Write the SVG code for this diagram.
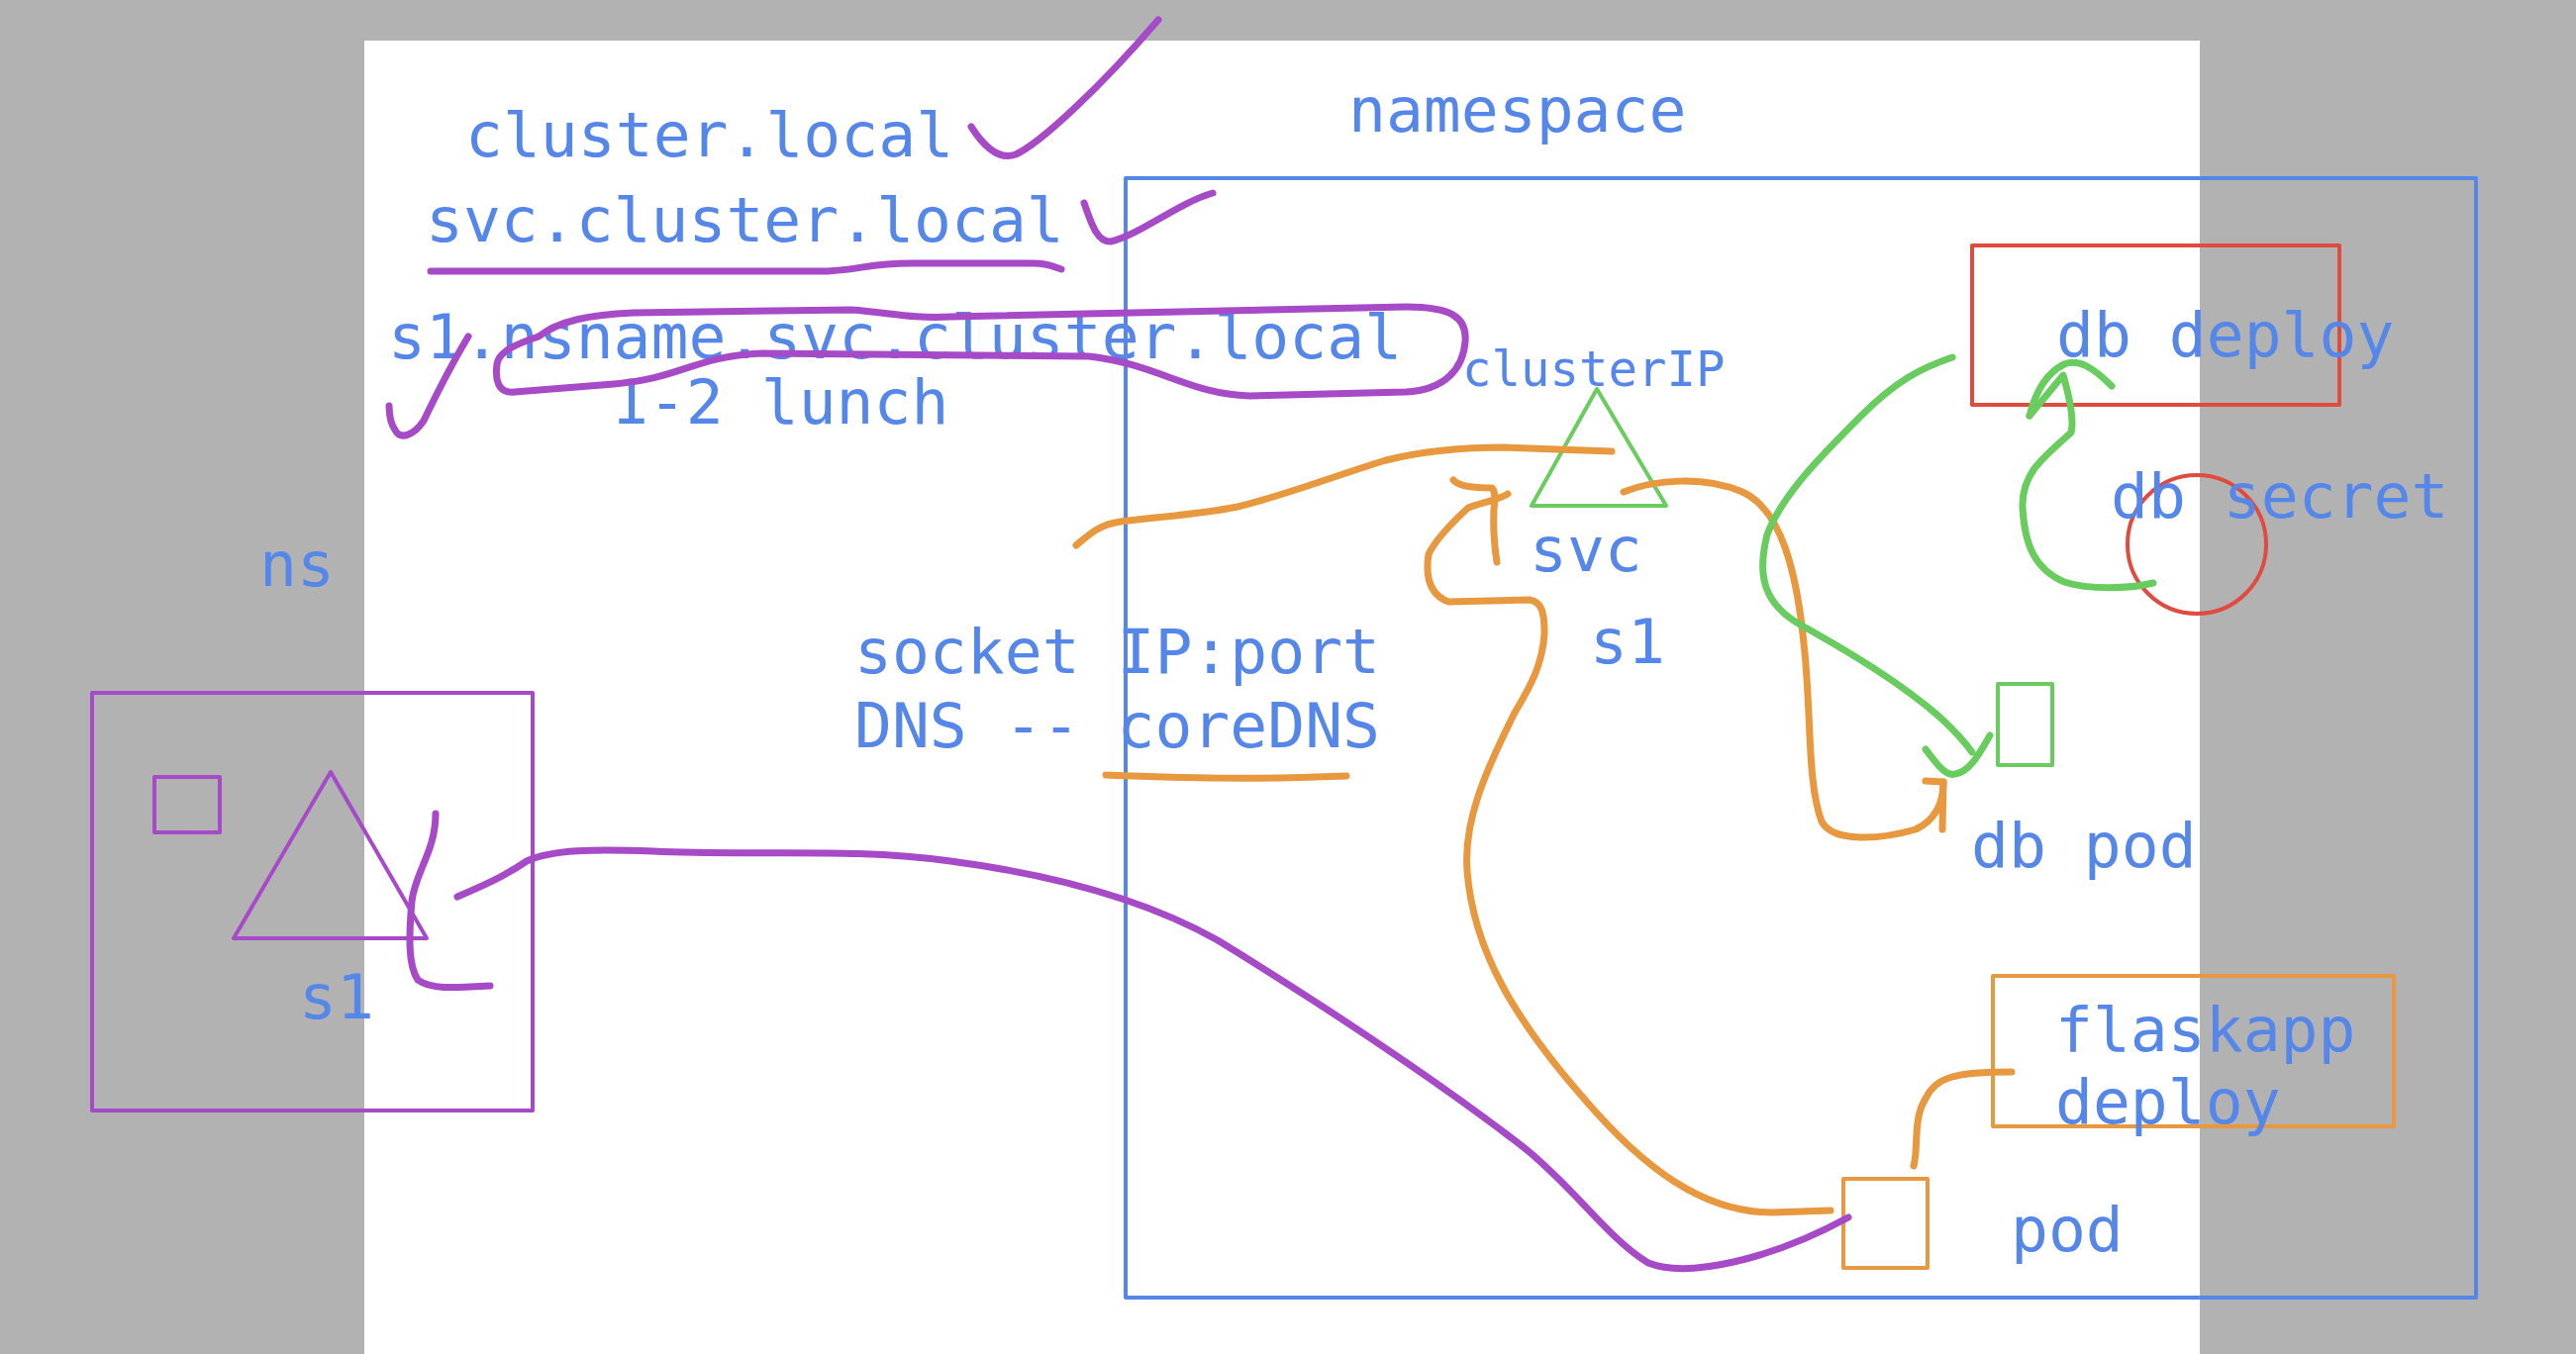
<svg xmlns="http://www.w3.org/2000/svg" width="2602" height="1368" viewBox="0 0 2602 1368">
<style>
text{font-family:"DejaVu Sans Mono","Liberation Mono",monospace;fill:#5586e9;font-size:63px}
.sm{font-size:49px}
.box{fill:none;stroke-width:4;stroke-linejoin:round}
.ink{fill:none;stroke-width:7;stroke-linecap:round;stroke-linejoin:round}
.p{stroke:#a64ac7}.o{stroke:#e8983e}.g{stroke:#68cd5e}.r{stroke:#e04b3f}.b{stroke:#5586e9}
</style>
<rect x="0" y="0" width="2602" height="1368" fill="#b2b2b2"/>
<rect x="368" y="41" width="1854" height="1327" fill="#ffffff"/>

<g id="notes">
<text x="470" y="158">cluster.local</text>
<text x="430" y="244">svc.cluster.local</text>
<text x="392" y="362">s1.nsname.svc.cluster.local</text>
<text x="617" y="428">1-2 lunch</text>
<text x="863" y="680">socket IP:port</text>
<text x="863" y="755">DNS -- coreDNS</text>
<text x="262" y="592">ns</text>
</g>

<g id="namespace">
<rect class="box b" x="1137" y="180" width="1364" height="1131"/>
<text x="1362" y="133">namespace</text>
</g>

<g id="ns-box">
<rect class="box p" x="93" y="700" width="445" height="422"/>
<rect class="box p" x="156" y="785" width="66" height="56"/>
<polygon class="box p" points="334,780 236,948 431,948"/>
<text x="302" y="1029">s1</text>
</g>

<g id="svc">
<polygon class="box g" points="1613,393 1547,511 1683,511"/>
<text class="sm" x="1477" y="390">clusterIP</text>
<text x="1545" y="577">svc</text>
<text x="1606" y="670">s1</text>
</g>

<g id="db-deploy">
<rect class="box r" x="1992" y="248" width="371" height="161"/>
<text x="2077" y="360">db deploy</text>
</g>

<g id="db-secret">
<circle class="box r" cx="2219" cy="550" r="70"/>
<text x="2132" y="523">db secret</text>
</g>

<g id="db-pod">
<rect class="box g" x="2018" y="691" width="55" height="82"/>
<text x="1991" y="876">db pod</text>
</g>

<g id="flaskapp-deploy">
<rect class="box o" x="2013" y="986" width="405" height="152"/>
<text x="2076" y="1062">flaskapp</text>
<text x="2076" y="1135">deploy</text>
</g>

<g id="pod">
<rect class="box o" x="1862" y="1191" width="85" height="90"/>
<text x="2031" y="1264">pod</text>
</g>

<g id="connectors">
<path class="ink p" d="M981,128 C995,150 1010,162 1026,156 C1050,145 1110,90 1170,20"/>
<path class="ink p" d="M1095,205 C1102,225 1108,245 1122,244 C1150,238 1190,205 1225,195"/>
<path class="ink p" d="M435,274 L836,274 C870,272 880,266 920,266 L1043,266 C1060,266 1065,270 1072,272"/>
<path class="ink p" d="M544,340 C565,324 595,318 640,316 L860,313 C900,316 920,322 960,320 L1420,310 C1465,310 1482,320 1480,345 C1478,372 1460,394 1420,396 L1262,400 C1200,398 1170,368 1100,360 L770,357 C700,360 690,382 620,388 L520,396 C502,398 500,382 502,368 C503,356 520,348 544,340"/>
<path class="ink p" d="M473,340 C455,370 440,400 428,425 C418,440 405,444 400,436 C394,428 393,420 393,410"/>
<path class="ink p" d="M440,822 C440,860 420,880 416,910 C413,945 412,975 422,990 C435,1000 460,998 495,996"/>
<path class="ink p" d="M462,906 C490,894 510,885 532,870 C558,858 600,858 660,860 C760,865 860,856 960,870 C1050,882 1150,905 1230,950 C1320,1005 1450,1090 1540,1160 C1590,1200 1625,1252 1665,1276 C1705,1292 1790,1272 1867,1230"/>

<path class="ink o" d="M1087,551 C1100,540 1110,530 1132,527 C1170,522 1210,520 1250,512 C1300,500 1350,480 1400,465 C1440,455 1480,452 1520,452 L1628,456"/>
<path class="ink o" d="M1468,485 C1474,492 1490,493 1507,493 C1511,497 1510,505 1509,515 C1508,535 1510,555 1512,568"/>
<path class="ink o" d="M1523,499 C1515,505 1495,508 1483,513 C1470,525 1450,545 1443,560 C1440,580 1442,600 1463,608 L1545,606 C1558,608 1560,620 1560,640 C1558,670 1548,690 1530,720 C1500,780 1478,830 1482,880 C1488,960 1530,1030 1600,1110 C1660,1180 1720,1225 1790,1225 L1849,1223"/>
<path class="ink o" d="M1640,497 C1670,485 1720,480 1760,497 C1800,515 1815,580 1822,650 C1830,720 1825,790 1840,830 C1852,852 1900,848 1935,838 C1956,828 1963,810 1963,790 L1945,789"/>
<path class="ink o" d="M1963,790 L1962,838"/>
<path class="ink o" d="M1117,783 C1200,786 1260,788 1360,784"/>
<path class="ink o" d="M1933,1178 C1938,1160 1932,1130 1945,1110 C1955,1088 1975,1083 2032,1083"/>

<path class="ink g" d="M1972,361 C1940,372 1915,385 1880,420 C1840,460 1800,500 1785,540 C1775,580 1780,610 1820,632 C1870,660 1920,690 1960,725 C1978,742 1985,750 1992,760"/>
<path class="ink g" d="M1945,757 C1955,770 1965,785 1975,782 C1990,780 2000,760 2010,743"/>
<path class="ink g" d="M2175,589 C2150,595 2110,596 2085,588 C2055,575 2045,550 2043,513 C2042,480 2060,465 2092,437 C2095,425 2090,400 2084,379 L2050,420"/>
<path class="ink g" d="M2050,420 C2055,400 2065,378 2085,368 C2100,362 2115,372 2133,390"/>
</g>
</svg>
